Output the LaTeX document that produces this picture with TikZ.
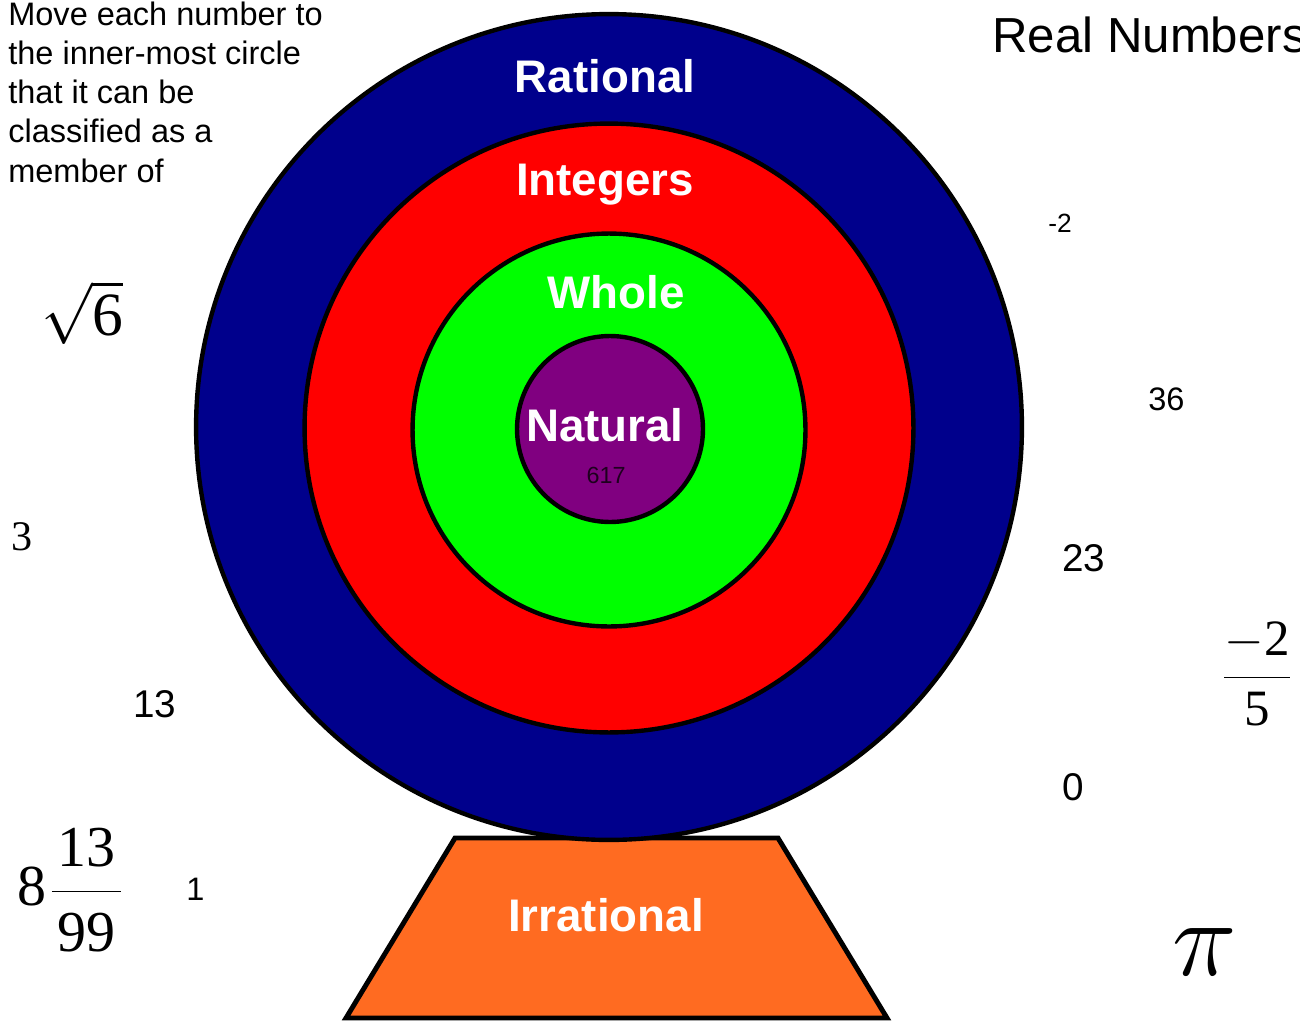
\RequirePackage{fix-cm}
\documentclass[tikz,border=0pt]{standalone}
\usepackage[no-math]{fontspec}
\setmainfont{Liberation Sans}
\newfontfamily\tms{Liberation Serif}
\definecolor{ringblue}{RGB}{0,0,140}
\definecolor{ringred}{RGB}{255,0,0}
\definecolor{ringgreen}{RGB}{0,255,0}
\definecolor{ringpurple}{RGB}{128,0,128}
\definecolor{baseorange}{RGB}{255,107,33}
\definecolor{darknum}{RGB}{30,0,30}
\begin{document}
\begin{tikzpicture}[x=0.02cm,y=-0.02cm,
  ring/.style={circle, draw=black, line width=2.5pt, inner sep=0pt},
  lbl/.style={font=\fontsize{26}{26}\selectfont\bfseries, text=white, anchor=base, inner sep=0pt},
  num/.style={anchor=base west, inner sep=0pt},
  mathnum/.style={inner sep=0pt}]
\useasboundingbox (0,0) rectangle (1300,1021);
% base (irrational)
\draw[fill=baseorange, line width=2.8pt, line join=miter] (455,838) -- (778,838) -- (887,1018) -- (346,1018) -- cycle;
% rings
\node[ring, fill=ringblue, minimum size=16.52cm] (rational) at (609,427) {};
\node[ring, fill=ringred, minimum size=12.18cm] (integers) at (609,428) {};
\node[ring, fill=ringgreen, minimum size=7.86cm] (whole) at (609,430) {};
\node[ring, fill=ringpurple, minimum size=3.72cm] (natural) at (610,429) {};
% labels
\node[lbl] (tRational) at (605,92) {Rational};
\node[lbl] (tIntegers) at (605,195) {Integers};
\node[lbl] (tWhole) at (616,308) {Whole};
\node[lbl] (tNatural) at (605,441) {Natural};
\node[lbl] (tIrrational) at (606,931) {Irrational};
\node[anchor=base, inner sep=0pt, text=darknum, font=\fontsize{13.3}{13.3}\selectfont] (n617) at (606,483) {617};
% instructions
\node[anchor=base west, inner sep=0pt, align=left, font=\fontsize{18.5}{22.3}\selectfont] (instr) at (8,182)
  {Move each number to\\the inner-most circle\\that it can be\\classified as a\\member of};
\node[num, font=\fontsize{28}{28}\selectfont] (title) at (992,52) {Real Numbers};
% numbers (sans)
\node[num, font=\fontsize{15}{15}\selectfont] (nm2) at (1048,232) {-2};
\node[num, font=\fontsize{18.5}{18.5}\selectfont] (n36) at (1148,410) {36};
\node[num, font=\fontsize{22}{22}\selectfont] (n23) at (1062,571) {23};
\node[num, font=\fontsize{22}{22}\selectfont] (n0) at (1062,800) {0};
\node[num, font=\fontsize{22}{22}\selectfont] (n13) at (133,717) {13};
\node[num, font=\fontsize{18.5}{18.5}\selectfont] (n1) at (186,900) {1};
% numbers (serif)
\node[num, font=\fontsize{24}{24}\selectfont\tms] (n3) at (11,550) {3};
\node[mathnum, font=\fontsize{35}{35}\selectfont] (sqrt6) at (82,313) {$\sqrt{\hbox{\tms 6}}$};
\node[mathnum, font=\fontsize{33}{33}\selectfont] (mixed) at (70,890)
  {$\displaystyle\hbox{\tms 8}\kern2pt\frac{\hbox{\kern3pt\tms 13\kern3pt}\rule[-13pt]{0pt}{13pt}}{\hbox{\kern2pt\tms 99\kern2pt}\rule{0pt}{33pt}}$};
\node[mathnum, font=\fontsize{29}{29}\selectfont] (frac) at (1257,674)
  {$\displaystyle\frac{-\hbox{\tms 2}\rule[-5pt]{0pt}{5pt}}{\hbox{\tms 5}\rule{0pt}{26pt}}$};
\node[mathnum, font=\fontsize{62}{62}\selectfont] (pi) at (1205,952) {$\pi$};
\end{tikzpicture}
\end{document}
